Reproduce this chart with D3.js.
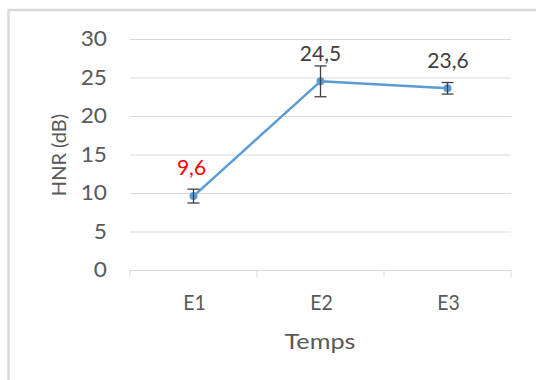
<!DOCTYPE html>
<html>
<head>
<meta charset="utf-8">
<script src="https://cdn.jsdelivr.net/npm/d3@7"></script>
<style>
  html, body { margin: 0; padding: 0; background: #fff; }
  svg { display: block; }
  text { font-family: Lato, "Open Sans", sans-serif; }
</style>
</head>
<body>
<svg id="chart" width="536" height="380"></svg>
<script>
// HNR measured at three time points, with error bars
const categories = ["E1", "E2", "E3"];
const hnrValues = [9.6, 24.5, 23.6];
const hnrErrors = [0.9, 2.0, 0.75];
const valueLabels = ["9,6", "24,5", "23,6"];
const labelColors = ["#ff0000", "#404040", "#404040"];
const yTicks = [0, 5, 10, 15, 20, 25, 30];

const svg = d3.select("#chart");
const W = 536, H = 380;
const plot = { left: 130, right: 511, top: 39, bottom: 270 };
const textGrey = "#595959";

// chart frame
svg.append("rect")
  .attr("x", 8.5).attr("y", 10)
  .attr("width", W + 10).attr("height", H + 10)
  .attr("fill", "#fff")
  .attr("stroke", "#d9d9d9").attr("stroke-width", 2.5);

const x = d3.scaleBand().domain(categories).range([plot.left, plot.right]);
const y = d3.scaleLinear().domain([0, 30]).range([plot.bottom, plot.top]);

// text placed at (px, py), optionally widened horizontally
function label(g, px, py, str, opts) {
  const o = Object.assign({ size: 21, sx: 1, anchor: "middle", fill: textGrey, dy: null }, opts);
  const t = g.append("text")
    .attr("transform", `translate(${px},${py}) scale(${o.sx},1)`)
    .attr("text-anchor", o.anchor)
    .attr("fill", o.fill)
    .attr("font-size", o.size)
    .text(str);
  if (o.dy) t.attr("dy", o.dy);
  return t;
}

// horizontal gridlines
const yAxis = d3.axisLeft(y).tickValues(yTicks).tickSize(-(plot.right - plot.left)).tickFormat("");
const gy = svg.append("g").attr("transform", `translate(${plot.left},0)`).call(yAxis);
gy.select(".domain").remove();
gy.selectAll(".tick line").attr("stroke", "#d9d9d9").attr("stroke-width", 1);
gy.selectAll(".tick text").remove();

// y tick labels
yTicks.forEach(v => label(svg, 107, y(v), String(v), { anchor: "end", sx: 1.08, dy: "0.35em" }));

// category axis baseline
const xAxis = d3.axisBottom(x).tickSize(0).tickFormat("");
const gx = svg.append("g").attr("transform", `translate(0,${plot.bottom})`).call(xAxis);
gx.select(".domain").attr("stroke", "#d9d9d9").attr("stroke-width", 1);
gx.selectAll(".tick text").remove();
// category separators
const sepPositions = categories.map(c => x(c)).concat([x(categories[categories.length - 1]) + x.bandwidth()]);
gx.selectAll(".sep").data(sepPositions).enter().append("line")
  .attr("class", "sep")
  .attr("x1", d => d).attr("x2", d => d)
  .attr("y1", 0).attr("y2", 7)
  .attr("stroke", "#d9d9d9").attr("stroke-width", 1);

const cx = c => x(c) + x.bandwidth() / 2;

// category labels
categories.forEach(c => label(svg, cx(c) + 1, 310, c, { sx: 0.93 }));

const pts = categories.map((c, i) => ({ c, v: hnrValues[i], e: hnrErrors[i], label: valueLabels[i], color: labelColors[i] }));

// series line
svg.append("path")
  .datum(pts)
  .attr("fill", "none")
  .attr("stroke", "#5b9bd5").attr("stroke-width", 2.5)
  .attr("stroke-linejoin", "round")
  .attr("d", d3.line().x(d => cx(d.c)).y(d => y(d.v)));

// markers
svg.selectAll(".pt").data(pts).enter().append("circle")
  .attr("cx", d => cx(d.c)).attr("cy", d => y(d.v)).attr("r", 4)
  .attr("fill", "#5b9bd5");

// error bars
const eb = svg.selectAll(".eb").data(pts).enter().append("g").attr("stroke", "#404040").attr("stroke-width", 1.3);
eb.append("line")
  .attr("x1", d => cx(d.c)).attr("x2", d => cx(d.c))
  .attr("y1", d => y(d.v + d.e)).attr("y2", d => y(d.v - d.e));
eb.append("line")
  .attr("x1", d => cx(d.c) - 6).attr("x2", d => cx(d.c) + 6)
  .attr("y1", d => y(d.v + d.e)).attr("y2", d => y(d.v + d.e));
eb.append("line")
  .attr("x1", d => cx(d.c) - 6).attr("x2", d => cx(d.c) + 6)
  .attr("y1", d => y(d.v - d.e)).attr("y2", d => y(d.v - d.e));

// value labels above each point
const labelShift = { E1: [-2, -21], E2: [0, -20.6], E3: [0.5, -20] };
pts.forEach(d => {
  const [dx, dy] = labelShift[d.c];
  label(svg, cx(d.c) + dx, y(d.v) + dy, d.label, { fill: d.color, sx: 1.0 });
});

// axis titles
svg.append("text")
  .attr("transform", `translate(66,155) rotate(-90)`)
  .attr("text-anchor", "middle")
  .attr("fill", textGrey).attr("font-size", 20)
  .text("HNR (dB)");

label(svg, 320, 349, "Temps", { sx: 1.2 });
</script>
</body>
</html>
